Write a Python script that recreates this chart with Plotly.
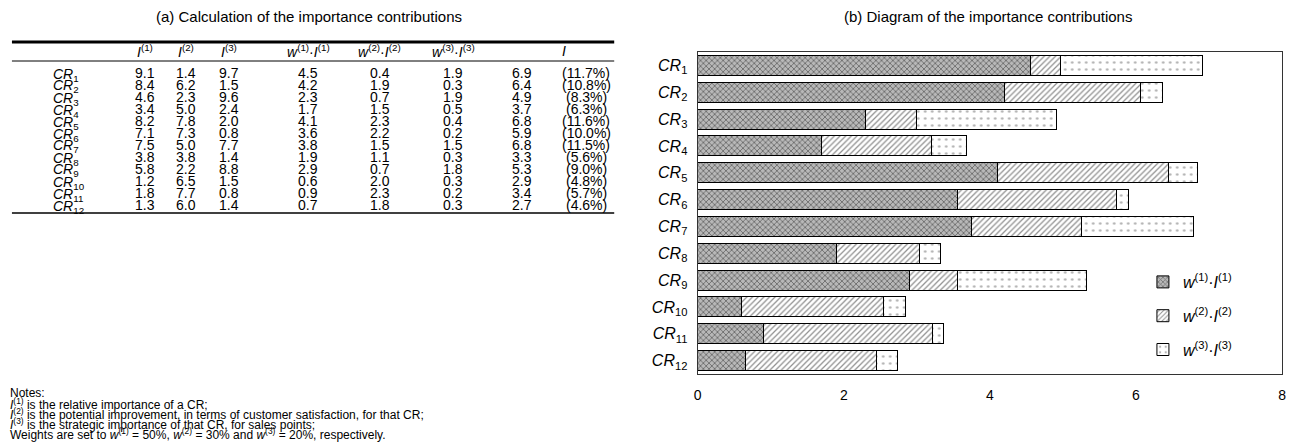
import plotly.graph_objects as go

# ---------------- data ----------------
crs = [f"CR{i}" for i in range(1, 13)]
I1 = [9.1, 8.4, 4.6, 3.4, 8.2, 7.1, 7.5, 3.8, 5.8, 1.2, 1.8, 1.3]
I2 = [1.4, 6.2, 2.3, 5.0, 7.8, 7.3, 5.0, 3.8, 2.2, 6.5, 7.7, 6.0]
I3 = [9.7, 1.5, 9.6, 2.4, 2.0, 0.8, 7.7, 1.4, 8.8, 1.5, 0.8, 1.4]
wI1 = [4.5, 4.2, 2.3, 1.7, 4.1, 3.6, 3.8, 1.9, 2.9, 0.6, 0.9, 0.7]
wI2 = [0.4, 1.9, 0.7, 1.5, 2.3, 2.2, 1.5, 1.1, 0.7, 2.0, 2.3, 1.8]
wI3 = [1.9, 0.3, 1.9, 0.5, 0.4, 0.2, 1.5, 0.3, 1.8, 0.3, 0.2, 0.3]
I_tot = [6.9, 6.4, 4.9, 3.7, 6.8, 5.9, 6.8, 3.3, 5.3, 2.9, 3.4, 2.7]
I_pct = ["11.7%", "10.8%", "8.3%", "6.3%", "11.6%", "10.0%", "11.5%", "5.6%", "9.0%", "4.8%", "5.7%", "4.6%"]

# bar segment lengths as drawn in the diagram (b)
bar1 = [4.55, 4.20, 2.30, 1.70, 4.10, 3.55, 3.75, 1.90, 2.90, 0.60, 0.90, 0.65]
bar2 = [0.42, 1.86, 0.69, 1.50, 2.34, 2.19, 1.50, 1.14, 0.66, 1.95, 2.31, 1.80]
bar3 = [1.94, 0.30, 1.92, 0.48, 0.40, 0.16, 1.54, 0.28, 1.76, 0.30, 0.16, 0.28]

x_ticks = [0, 2, 4, 6, 8]

W, H = 1296, 442
FONT = "Liberation Sans, Arial, sans-serif"


def px(x):
    return x / W


def py(y):
    return 1 - y / H


def cr_label(c):
    return f"<i>CR</i><sub>{c[2:]}</sub>"


ylabels = [cr_label(c) for c in crs]

fig = go.Figure()

series = [
    (bar1, "<i>w</i><sup>(1)</sup>·<i>I</i><sup>(1)</sup>", "x", "#222222", "#b8b8b8", 4, 0.4),
    (bar2, "<i>w</i><sup>(2)</sup>·<i>I</i><sup>(2)</sup>", "/", "#222222", "#ffffff", 4, 0.32),
    (bar3, "<i>w</i><sup>(3)</sup>·<i>I</i><sup>(3)</sup>", ".", "#666666", "#ffffff", 7, 0.12),
]
for k, (vals, name, shp, fg, bg, sz, sol) in enumerate(series):
    fig.add_trace(go.Bar(
        y=ylabels, x=vals, orientation="h", name=name,
        legendgroup=f"g{k}",
        marker=dict(color="white", line=dict(color="black", width=1),
                    pattern=dict(shape=shp, fgcolor=fg, bgcolor=bg, size=sz, solidity=sol)),
        hoverinfo="skip",
    ))

fig.update_layout(
    width=W, height=H,
    margin=dict(l=0, r=0, t=0, b=0),
    paper_bgcolor="white", plot_bgcolor="white",
    barmode="stack", bargap=0.26,
    font=dict(family=FONT, size=13, color="black"),
    showlegend=True,
    legend=dict(x=px(1146), y=py(265), xanchor="left", yanchor="top",
                traceorder="grouped", tracegroupgap=10,
                font=dict(size=16, family=FONT), bgcolor="rgba(0,0,0,0)",
                itemwidth=30),
    xaxis=dict(domain=[px(698), px(1286)], range=[0, 8], tickvals=x_ticks,
               showgrid=False, zeroline=False, showline=True, mirror=True,
               linecolor="#333", linewidth=1.2, ticks="", ticklabelstandoff=8,
               tickfont=dict(size=14, family=FONT)),
    yaxis=dict(domain=[py(374), py(52)], autorange="reversed",
               showgrid=False, zeroline=False, showline=True, mirror=True,
               linecolor="#333", linewidth=1.2, ticks="", ticklabelstandoff=6,
               tickfont=dict(size=16, family=FONT)),
)

ann = []
shapes = []


def text(x, y, t, size, xanchor="center"):
    ann.append(dict(x=px(x), y=py(y), text=t, showarrow=False, xref="paper", yref="paper",
                    xanchor=xanchor, yanchor="middle", font=dict(size=size)))


# titles
text(307, 17, "(a) Calculation of the importance contributions", 15)
text(990, 17, "(b) Diagram of the importance contributions", 15)

# table rules
shapes.append(dict(type="line", xref="paper", yref="paper", x0=px(8), x1=px(614),
                   y0=py(42), y1=py(42), line=dict(color="black", width=3)))
shapes.append(dict(type="line", xref="paper", yref="paper", x0=px(8), x1=px(614),
                   y0=py(61), y1=py(61), line=dict(color="black", width=1)))
shapes.append(dict(type="line", xref="paper", yref="paper", x0=px(8), x1=px(614),
                   y0=py(213), y1=py(213), line=dict(color="black", width=1.5)))

# header
col_x = [142, 183, 226, 306, 378, 452, 521, 586]
headers = [
    (142, "<i>I</i><sup>(1)</sup>"),
    (183, "<i>I</i><sup>(2)</sup>"),
    (226, "<i>I</i><sup>(3)</sup>"),
    (306, "<i>w</i><sup>(1)</sup>·<i>I</i><sup>(1)</sup>"),
    (378, "<i>w</i><sup>(2)</sup>·<i>I</i><sup>(2)</sup>"),
    (452, "<i>w</i><sup>(3)</sup>·<i>I</i><sup>(3)</sup>"),
    (563, "<i>I</i>"),
]
for hx, ht in headers:
    text(hx, 51, ht, 14)

row_y0, row_dy = 73, 12.0
for i, c in enumerate(crs):
    yy = row_y0 + i * row_dy
    text(47, yy + 1.5, cr_label(c), 14, xanchor="left")
    vals = [I1[i], I2[i], I3[i], wI1[i], wI2[i], wI3[i], I_tot[i]]
    for cx, v in zip(col_x[:7], vals):
        text(cx, yy, f"{v:.1f}", 14)
    text(col_x[7], yy, f"({I_pct[i]})", 14)

notes = [
    "Notes:",
    "<i>I</i><sup>(1)</sup> is the relative importance of a CR;",
    "<i>I</i><sup>(2)</sup> is the potential improvement, in terms of customer satisfaction, for that CR;",
    "<i>I</i><sup>(3)</sup> is the strategic importance of that CR, for sales points;",
    "Weights are set to <i>w</i><sup>(1)</sup> = 50%, <i>w</i><sup>(2)</sup> = 30% and <i>w</i><sup>(3)</sup> = 20%, respectively.",
]
note_y = [393, 403.5, 414, 424, 434]
for t, ny in zip(notes, note_y):
    text(4, ny, t, 12, xanchor="left")

fig.update_layout(annotations=ann, shapes=shapes)
fig.write_html("out.html", config={"displayModeBar": False},
               post_script="document.body.style.margin='0';document.body.style.overflow='hidden';")
